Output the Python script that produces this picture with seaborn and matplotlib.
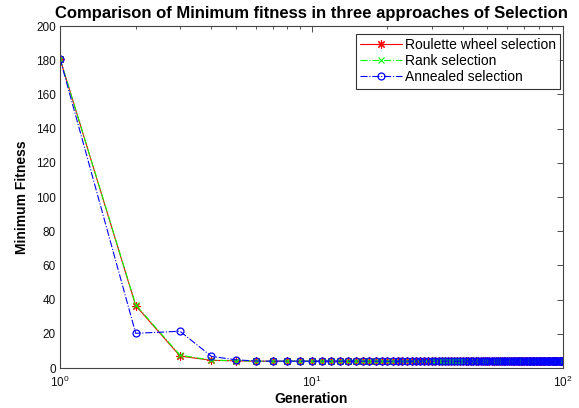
import matplotlib
matplotlib.use("Agg")
import matplotlib.pyplot as plt
from matplotlib.ticker import LogLocator, NullFormatter
import numpy as np
import pandas as pd
import seaborn as sns

# Generation index (1..100)
generation = list(range(1, 101))

# Minimum fitness per generation for each selection scheme
roulette = [
    181.0, 36.5, 7.0, 4.5, 4.2, 4.0, 4.0, 4.0, 4.0, 4.0,
    4.0, 4.0, 4.0, 4.0, 4.0, 4.0, 4.0, 4.0, 4.0, 4.0,
    4.0, 4.0, 4.0, 4.0, 4.0, 4.0, 4.0, 4.0, 4.0, 4.0,
    4.0, 4.0, 4.0, 4.0, 4.0, 4.0, 4.0, 4.0, 4.0, 4.0,
    4.0, 4.0, 4.0, 4.0, 4.0, 4.0, 4.0, 4.0, 4.0, 4.0,
    4.0, 4.0, 4.0, 4.0, 4.0, 4.0, 4.0, 4.0, 4.0, 4.0,
    4.0, 4.0, 4.0, 4.0, 4.0, 4.0, 4.0, 4.0, 4.0, 4.0,
    4.0, 4.0, 4.0, 4.0, 4.0, 4.0, 4.0, 4.0, 4.0, 4.0,
    4.0, 4.0, 4.0, 4.0, 4.0, 4.0, 4.0, 4.0, 4.0, 4.0,
    4.0, 4.0, 4.0, 4.0, 4.0, 4.0, 4.0, 4.0, 4.0, 4.0,
]
rank = [
    181.0, 37.0, 7.5, 4.6, 4.3, 4.0, 4.0, 4.0, 4.0, 4.0,
    4.0, 4.0, 4.0, 4.0, 4.0, 4.0, 4.0, 4.0, 4.0, 4.0,
    4.0, 4.0, 4.0, 4.0, 4.0, 4.0, 4.0, 4.0, 4.0, 4.0,
    4.0, 4.0, 4.0, 4.0, 4.0, 4.0, 4.0, 4.0, 4.0, 4.0,
    4.0, 4.0, 4.0, 4.0, 4.0, 4.0, 4.0, 4.0, 4.0, 4.0,
    4.0, 4.0, 4.0, 4.0, 4.0, 4.0, 4.0, 4.0, 4.0, 4.0,
    4.0, 4.0, 4.0, 4.0, 4.0, 4.0, 4.0, 4.0, 4.0, 4.0,
    4.0, 4.0, 4.0, 4.0, 4.0, 4.0, 4.0, 4.0, 4.0, 4.0,
    4.0, 4.0, 4.0, 4.0, 4.0, 4.0, 4.0, 4.0, 4.0, 4.0,
    4.0, 4.0, 4.0, 4.0, 4.0, 4.0, 4.0, 4.0, 4.0, 4.0,
]
annealed = [
    181.0, 20.3, 21.5, 6.8, 4.8, 4.1, 4.0, 4.0, 4.0, 4.0,
    4.0, 4.0, 4.0, 4.0, 4.0, 4.0, 4.0, 4.0, 4.0, 4.0,
    4.0, 4.0, 4.0, 4.0, 4.0, 4.0, 4.0, 4.0, 4.0, 4.0,
    4.0, 4.0, 4.0, 4.0, 4.0, 4.0, 4.0, 4.0, 4.0, 4.0,
    4.0, 4.0, 4.0, 4.0, 4.0, 4.0, 4.0, 4.0, 4.0, 4.0,
    4.0, 4.0, 4.0, 4.0, 4.0, 4.0, 4.0, 4.0, 4.0, 4.0,
    4.0, 4.0, 4.0, 4.0, 4.0, 4.0, 4.0, 4.0, 4.0, 4.0,
    4.0, 4.0, 4.0, 4.0, 4.0, 4.0, 4.0, 4.0, 4.0, 4.0,
    4.0, 4.0, 4.0, 4.0, 4.0, 4.0, 4.0, 4.0, 4.0, 4.0,
    4.0, 4.0, 4.0, 4.0, 4.0, 4.0, 4.0, 4.0, 4.0, 4.0,
]

series_names = ["Roulette wheel selection", "Rank selection", "Annealed selection"]

sns.set_theme(style="white")
plt.rcParams["font.family"] = ["Liberation Sans", "DejaVu Sans"]
plt.rcParams["mathtext.fontset"] = "custom"
plt.rcParams["mathtext.rm"] = "Liberation Sans"
plt.rcParams["mathtext.it"] = "Liberation Sans"
plt.rcParams["text.color"] = "black"
plt.rcParams["axes.labelcolor"] = "black"

fig = plt.figure(figsize=(5.79, 4.08), dpi=100)
ax = fig.add_axes([0.1036, 0.098, 0.8688, 0.838])

styles = [
    dict(color="#ff0000", linestyle="-", marker=(8, 2, 0), markersize=6, mew=0.8),
    dict(color="#00ff00", linestyle="-.", marker="x", markersize=4, mew=0.8),
    dict(color="#0000ff", linestyle="-.", marker="o", markersize=5,
         markerfacecolor="none", mew=0.9),
]

for name, values, st in zip(series_names, [roulette, rank, annealed], styles):
    df = pd.DataFrame({"Generation": generation, "Minimum Fitness": values})
    sns.lineplot(data=df, x="Generation", y="Minimum Fitness", ax=ax,
                 label=name, linewidth=0.8, markeredgecolor=st["color"], **st)

ax.set_xscale("log")
ax.set_xlim(1, 100)
ax.set_ylim(0, 200)
ax.set_yticks(np.arange(0, 201, 20))
ax.xaxis.set_minor_locator(LogLocator(base=10, subs=np.arange(2, 10)))
ax.xaxis.set_minor_formatter(NullFormatter())

ax.tick_params(which="both", direction="in", top=True, right=True,
               color="#333333", labelsize=8.5, labelcolor="#111111")
ax.tick_params(which="major", length=4, width=0.6)
ax.tick_params(which="minor", length=2.5, width=0.6)
ax.tick_params(axis="x", which="major", pad=5)
ax.tick_params(axis="y", which="major", pad=3)

for sp in ax.spines.values():
    sp.set_color("#444444")
    sp.set_linewidth(0.8)

ax.set_xlabel("Generation", fontsize=10, fontweight="bold", labelpad=1)
ax.set_ylabel("Minimum Fitness", fontsize=10, fontweight="bold", labelpad=5)
ax.set_title("Comparison of Minimum fitness in three approaches of Selection",
             fontsize=12, fontweight="bold", pad=6)

leg = ax.legend(loc="upper right", fontsize=10, frameon=True, fancybox=False,
                edgecolor="black", borderpad=0.3, labelspacing=0.15,
                handlelength=3.0, handletextpad=0.25, borderaxespad=0.2,
                bbox_to_anchor=(1.0, 0.985))
leg.get_frame().set_linewidth(0.8)

fig.savefig("out.png", dpi=100, facecolor="white")
